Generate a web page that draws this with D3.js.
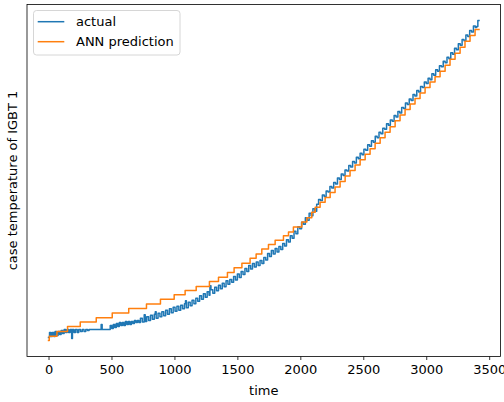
<!DOCTYPE html>
<html>
<head>
<meta charset="utf-8">
<script src="https://cdn.jsdelivr.net/npm/d3@7/dist/d3.min.js"></script>
<style>
  html, body { margin: 0; padding: 0; background: #fff; }
  svg { display: block; font-family: "DejaVu Sans", sans-serif; }
</style>
</head>
<body>
<svg id="chart" width="504" height="402"></svg>
<script>
// ---- data (time, case temperature) ----
const seriesNames = ["actual", "ANN prediction"];
const seriesColors = ["#1f77b4", "#ff7f0e"];
const timeTicks = [0, 500, 1000, 1500, 2000, 2500, 3000, 3500];
const xLabel = "time";
const yLabel = "case temperature of IGBT 1";

const actual = [
  [0,30.3],[8,30.8],[20,30.4],[30,30.8],[42,30.4],[52,30.9],[64,30.5],[76,30.9],[88,30.6],[100,31.0],
  [112,30.7],[124,31.1],[136,30.8],[148,31.1],[160,30.8],[172,31.1],[184,30.2],[190,31.1],[202,30.8],[214,31.1],
  [228,30.8],[240,31.1],[254,30.9],[268,31.1],[282,30.9],[296,31.1],[310,31.0],[322,31.1],[418,31.6],[426,31.1],
  [490,31.5],[502,31.2],[514,31.6],[526,31.3],[538,31.7],[550,31.4],[562,31.8],[574,31.5],[586,31.8],[598,31.5],
  [610,31.9],[622,31.6],[634,31.9],[646,31.6],[658,31.9],[670,31.7],[682,32.0],[694,31.8],[706,32.0],[718,31.8],
  [730,32.25],[745,31.85],[760,32.6],[768,31.9],[780,32.4],[795,32.0],[810,32.55],[825,32.15],[840,32.65],[848,32.9],
  [855,32.25],[870,32.75],[885,32.4],[900,32.9],[915,32.5],[930,33.05],[945,32.65],[960,33.2],[975,32.8],[990,33.35],
  [1005,32.95],[1020,33.45],[1035,33.05],[1050,33.55],[1065,33.2],[1080,33.7],[1088,34.0],[1095,33.3],[1110,33.85],[1125,33.5],
  [1140,34.05],[1155,33.7],[1170,34.25],[1185,33.95],[1200,34.5],[1215,34.15],[1230,34.7],[1245,34.35],[1260,34.9],[1275,34.55],
  [1282,35.5],[1290,35.1],[1305,34.75],[1320,35.35],[1335,35.0],[1350,35.55],[1365,35.2],[1380,35.75],[1395,35.4],[1410,36.0],
  [1425,35.65],[1440,36.15],[1455,35.85],[1470,36.45],[1485,36.1],[1500,36.7],[1515,36.35],[1530,36.95],[1545,36.65],[1560,37.25],
  [1575,36.95],[1590,37.55],[1605,37.2],[1620,37.75],[1635,37.4],[1650,37.9],[1665,37.55],[1680,38.05],[1695,37.75],[1710,38.35],
  [1725,38.1],[1740,38.75],[1755,38.45],[1770,39.05],[1785,38.7],[1800,39.25],[1815,38.9],[1830,39.45],[1845,39.15],[1860,39.75],
  [1875,39.5],[1890,40.15],[1905,39.9],[1920,40.55],[1935,40.3],[1950,41.0],[1965,40.75],[1980,41.45],[1995,41.25],[2010,41.9],
  [2025,41.7],[2040,42.35],[2055,42.1],[2070,42.8],[2085,42.55],[2100,43.25],[2115,43.0],[2130,43.7],[2145,44.2],[2160,44.1],
  [2175,44.65],[2190,44.5],[2205,45.05],[2220,44.95],[2235,45.5],[2250,45.35],[2265,45.9],[2280,45.75],[2295,46.35],[2310,46.2],
  [2325,46.75],[2340,46.6],[2355,47.15],[2370,47.05],[2385,47.6],[2400,47.45],[2415,48.0],[2430,47.85],[2445,48.45],[2460,48.3],
  [2475,48.85],[2490,48.7],[2505,49.25],[2520,49.15],[2535,49.7],[2550,49.55],[2565,50.1],[2580,49.95],[2595,50.55],[2610,50.4],
  [2625,50.95],[2640,50.8],[2655,51.35],[2670,51.25],[2685,51.8],[2700,51.65],[2715,52.2],[2730,52.05],[2745,52.65],[2760,52.5],
  [2775,53.05],[2790,52.9],[2805,53.45],[2820,53.35],[2835,53.9],[2850,53.75],[2865,54.3],[2880,54.15],[2895,54.75],[2910,54.6],
  [2925,55.15],[2940,55.0],[2955,55.55],[2970,55.45],[2985,56.0],[3000,55.85],[3015,56.4],[3030,56.25],[3045,56.85],[3060,56.7],
  [3075,57.25],[3090,57.1],[3105,57.65],[3120,57.55],[3135,58.1],[3150,57.95],[3165,58.5],[3180,58.35],[3195,58.95],[3210,58.8],
  [3225,59.4],[3240,59.25],[3255,59.85],[3270,59.7],[3285,60.3],[3300,60.15],[3315,60.75],[3330,60.6],[3345,61.2],[3360,61.05],
  [3375,61.65],[3390,61.5],[3400,61.6],[3410,62.2],[3419,62.2]
];

const prediction = [
  [0,30.0],[6,30.43],[67,30.9],[151,31.4],[252,31.85],[379,32.3],[506,32.77],[637,33.23],[778,33.67],[889,34.15],
  [998,34.6],[1085,35.03],[1173,35.43],[1278,35.93],[1350,36.37],[1421,36.83],[1474,37.33],[1536,37.77],[1601,38.27],[1649,38.7],
  [1694,39.2],[1747,39.67],[1800,40.1],[1866,40.53],[1906,40.93],[1945,41.43],[2012,41.93],[2052,42.35],[2091,42.9],[2118,43.4],
  [2157,43.9],[2197,44.4],[2237,44.9],[2276,45.45],[2316,46.0],[2356,46.55],[2395,47.1],[2435,47.65],[2475,48.2],[2515,48.75],
  [2554,49.3],[2594,49.85],[2634,50.4],[2673,50.95],[2713,51.5],[2753,52.1],[2792,52.7],[2832,53.25],[2872,53.8],[2911,54.35],
  [2951,54.9],[2991,55.45],[3030,56.0],[3070,56.55],[3110,57.1],[3150,57.7],[3189,58.3],[3229,58.9],[3269,59.5],[3308,60.1],
  [3348,60.7],[3388,61.3],[3419,61.3]
];

// ---- layout ----
const svg = d3.select("#chart");
const plot = { left: 27, right: 500.5, top: 4.5, bottom: 356.5 };

const allPts = actual.concat(prediction);
const xExt = d3.extent(allPts, d => d[0]);
const yExt = d3.extent(allPts, d => d[1]);
const xPad = (xExt[1] - xExt[0]) * 0.05;
const yPad = (yExt[1] - yExt[0]) * 0.05;

const x = d3.scaleLinear().domain([xExt[0] - xPad, xExt[1] + xPad]).range([plot.left, plot.right]);
const y = d3.scaleLinear().domain([yExt[0] - yPad, yExt[1] + yPad]).range([plot.bottom, plot.top]);

svg.append("rect").attr("width", 504).attr("height", 402).attr("fill", "#fff");

svg.append("defs").append("clipPath").attr("id", "clip")
  .append("rect").attr("x", plot.left).attr("y", plot.top)
  .attr("width", plot.right - plot.left).attr("height", plot.bottom - plot.top);

const line = d3.line().x(d => x(d[0])).y(d => y(d[1])).curve(d3.curveStepAfter);

const g = svg.append("g").attr("clip-path", "url(#clip)");
[actual, prediction].forEach((s, i) => {
  g.append("path").datum(s)
    .attr("d", line)
    .attr("fill", "none")
    .attr("stroke", seriesColors[i])
    .attr("stroke-width", 1.5)
    .attr("stroke-linejoin", "round")
    .attr("stroke-linecap", "square");
});

// ---- axes ----
const xAxis = d3.axisBottom(x).tickValues(timeTicks).tickSize(3.5).tickPadding(4.5)
  .tickFormat(d3.format("d"));
const ax = svg.append("g").attr("transform", `translate(0,${plot.bottom})`).call(xAxis);
ax.select(".domain").remove();
ax.selectAll(".tick line").attr("stroke", "#000").attr("stroke-width", 0.8);
ax.selectAll(".tick text").attr("fill", "#000").attr("font-size", 13)
  .attr("font-family", "DejaVu Sans, sans-serif");

// frame (spines)
svg.append("rect")
  .attr("x", plot.left).attr("y", plot.top)
  .attr("width", plot.right - plot.left).attr("height", plot.bottom - plot.top)
  .attr("fill", "none").attr("stroke", "#000").attr("stroke-width", 0.8);

// axis labels
svg.append("text").attr("x", (plot.left + plot.right) / 2).attr("y", 395)
  .attr("text-anchor", "middle").attr("font-size", 13).attr("fill", "#000").text(xLabel);
svg.append("text")
  .attr("transform", `translate(17,${(plot.top + plot.bottom) / 2}) rotate(-90)`)
  .attr("text-anchor", "middle").attr("font-size", 13).attr("fill", "#000").text(yLabel);

// ---- legend ----
const lg = svg.append("g");
lg.append("rect").attr("x", 33.5).attr("y", 10.5).attr("width", 146.5).attr("height", 44.5)
  .attr("rx", 3).attr("fill", "#fff").attr("fill-opacity", 0.8)
  .attr("stroke", "#cccccc").attr("stroke-width", 0.8);
seriesNames.forEach((name, i) => {
  const yy = 21.7 + i * 20;
  lg.append("line").attr("x1", 37.7).attr("x2", 64.3).attr("y1", yy).attr("y2", yy)
    .attr("stroke", seriesColors[i]).attr("stroke-width", 1.5);
  lg.append("text").attr("x", 76).attr("y", yy + 4.6)
    .attr("font-size", 13).attr("fill", "#000").text(name);
});
</script>
</body>
</html>
